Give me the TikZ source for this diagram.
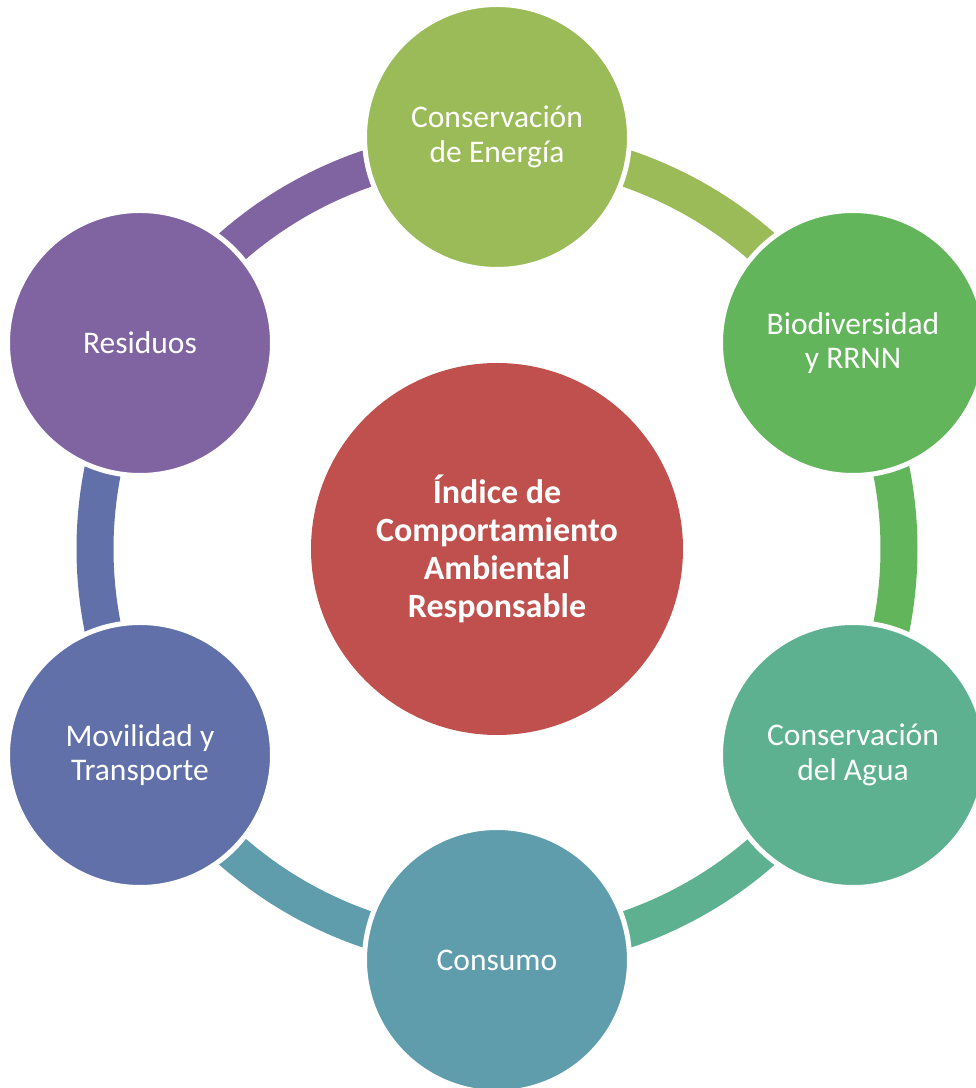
\documentclass[tikz,border=0pt]{standalone}
\usepackage{fontspec}
\setmainfont{Carlito}
\usetikzlibrary{calc}
\definecolor{cOlive}{HTML}{9BBB59}
\definecolor{cGreen}{HTML}{62B55B}
\definecolor{cSea}{HTML}{5EB190}
\definecolor{cTeal}{HTML}{5F9DAD}
\definecolor{cBlue}{HTML}{6170A9}
\definecolor{cPurple}{HTML}{8064A2}
\definecolor{cRed}{HTML}{C0504D}
\begin{document}
\begin{tikzpicture}[x=1pt,y=1pt,
  ringarc/.style={line width=37pt},
  outer/.style={circle,fill=#1,draw=white,line width=5pt,minimum size=265pt,inner sep=0pt,
    text=white,align=center,font=\fontsize{31.5}{34.5}\selectfont},
  hub/.style={circle,fill=cRed,minimum size=372pt,inner sep=0pt,
    text=white,align=center,font=\fontsize{34}{38}\selectfont\bfseries}]
\useasboundingbox (0,0) rectangle (976,1088);
\coordinate (c) at (497,539);
\foreach \a/\n in {90/p1,30/p2,-30/p3,-90/p4,-150/p5,150/p6}
  {\coordinate (\n) at ($(c)+(\a:402)$);}
\draw[ringarc,cOlive]  (p1) arc[start angle=90,end angle=30,radius=402];
\draw[ringarc,cGreen]  (p2) arc[start angle=30,end angle=-30,radius=402];
\draw[ringarc,cSea]    (p3) arc[start angle=-30,end angle=-90,radius=402];
\draw[ringarc,cTeal]   (p4) arc[start angle=-90,end angle=-150,radius=402];
\draw[ringarc,cBlue]   (p5) arc[start angle=210,end angle=150,radius=402];
\draw[ringarc,cPurple] (p6) arc[start angle=150,end angle=90,radius=402];
\node[outer=cOlive]  (energia) at (497,951) {Conservación\\de Energía};
\node[outer=cGreen]  (bio)     at (853,745) {Biodiversidad\\y RRNN};
\node[outer=cSea]    (agua)    at (853,333) {Conservación\\del Agua};
\node[outer=cTeal]   (consumo) at (497,128) {Consumo};
\node[outer=cBlue]   (movil)   at (140,333) {Movilidad y\\Transporte};
\node[outer=cPurple] (resid)   at (140,745) {Residuos};
\node[hub] (indice) at (c) {Índice de\\Comportamiento\\Ambiental\\Responsable};
\end{tikzpicture}
\end{document}
